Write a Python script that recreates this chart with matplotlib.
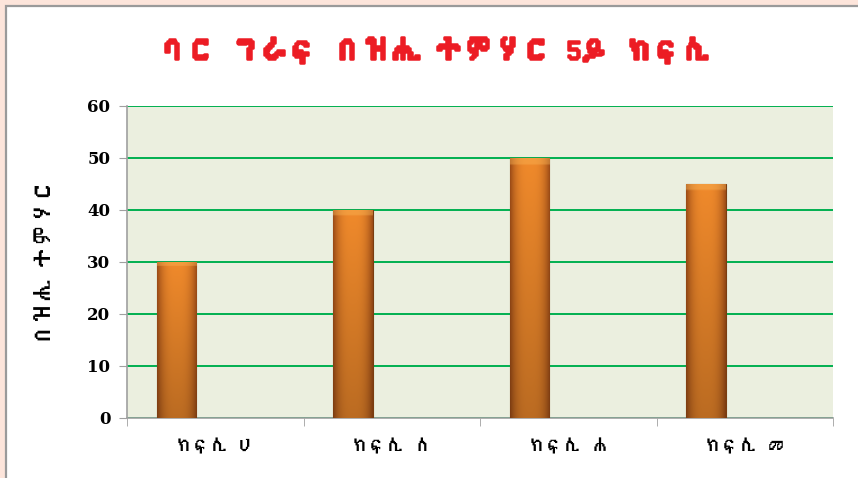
import numpy as np
import matplotlib
matplotlib.use("Agg")
import matplotlib.pyplot as plt
import matplotlib.patheffects as pe
from matplotlib import font_manager
from matplotlib.ft2font import FT2Font
from matplotlib.patches import Rectangle

# data
categories = ["ክፍሊ ሀ", "ክፍሊ ለ", "ክፍሊ ሐ", "ክፍሊ መ"]
students = [30, 40, 50, 45]
yticks = [0, 10, 20, 30, 40, 50, 60]
title = "ባር ግራፍ በዝሒ ተምሃር 5ይ ክፍሊ"
ylabel = "በዝሒ ተምሃር"


def find_ethiopic_font():
    # look for any installed font that has Ethiopic glyphs
    for f in font_manager.fontManager.ttflist:
        try:
            if 0x12AD in FT2Font(f.fname).get_charmap():
                return f.name
        except Exception:
            pass
    return None


eth = find_ethiopic_font()
families = ([eth] if eth else []) + ["DejaVu Sans"]
plt.rcParams['font.family'] = families

fig = plt.figure(figsize=(8.58, 4.78), dpi=100)
fig.patch.set_facecolor("#fde5db")

# white inner panel with grey frame
fig.patches.append(Rectangle((6 / 858, -0.01), 1.0, 1 - 6 / 478 + 0.01,
                             transform=fig.transFigure, facecolor="white",
                             edgecolor="#9a9a9a", linewidth=1.6, zorder=-5))

ax = fig.add_axes([127 / 858, 60 / 478, 706 / 858, 312 / 478])
ax.set_facecolor("#ebefdf")

x = np.arange(len(categories))
bar_x = x - 0.22
bars = ax.bar(bar_x, students, width=0.225, color="#e07a26",
              edgecolor="#7a3d10", linewidth=0.8, zorder=3)

# gradient fill on each bar
nx, ny = 60, 120
px = np.linspace(0, 1, nx)
prof = 1 - np.abs(2 * px - 1) ** 3
vy = np.linspace(1, 0, ny)[:, None]
dark = np.array([0.62, 0.30, 0.09])
light = np.array([0.94, 0.54, 0.17])
img = dark + (light - dark) * prof[None, :, None]
img = img * (0.78 + 0.22 * vy[..., None])
img[:3] = img[:3] * 0.6 + np.array([0.98, 0.72, 0.35]) * 0.4
img = np.clip(img, 0, 1)
for b in bars:
    bx, bw, bh = b.get_x(), b.get_width(), b.get_height()
    im = ax.imshow(img, extent=[bx, bx + bw, 0, bh], aspect="auto",
                   zorder=4, interpolation="bilinear")
    im.set_clip_path(b)

ax.set_xlim(-0.5, len(categories) - 0.5)
ax.set_ylim(0, 60)
ax.set_yticks(yticks)
ax.set_yticklabels([str(v) for v in yticks], fontsize=12, fontweight="bold",
                   family=["DejaVu Serif"])
ax.set_xticks(x)
ax.set_xticklabels(categories, fontsize=13, fontweight="bold")
ax.set_xticks(np.arange(-0.5, len(categories)), minor=True)
ax.tick_params(axis="x", which="major", length=0, pad=14)
ax.tick_params(axis="x", which="minor", length=6, color="#a0a0a0")
ax.tick_params(axis="y", length=6, color="#a0a0a0", pad=6)

ax.grid(axis="y", color="#00b050", linewidth=1.4, zorder=1)
ax.set_axisbelow(True)
for s in ["top", "right"]:
    ax.spines[s].set_visible(False)
for s in ["left", "bottom"]:
    ax.spines[s].set_color("#a0a0a0")
    ax.spines[s].set_linewidth(1.2)

ax.set_ylabel(ylabel, fontsize=16, fontweight="bold", labelpad=24)
fig.text(435 / 858, 1 - 50 / 478, title, color="#ec1c24", fontsize=21,
         fontweight="bold", ha="center", va="center",
         path_effects=[pe.withStroke(linewidth=1.8, foreground="#ec1c24")])

fig.savefig("out.png", dpi=100, facecolor=fig.get_facecolor())
